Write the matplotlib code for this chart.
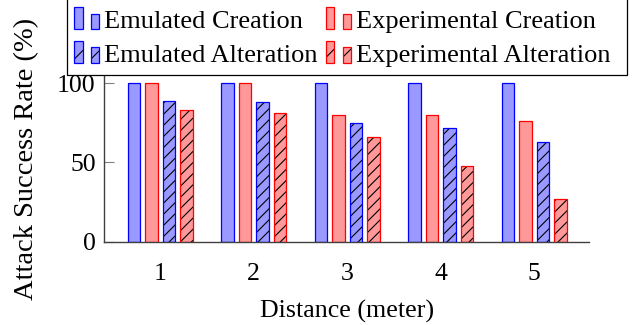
import matplotlib
matplotlib.use("Agg")
import matplotlib.pyplot as plt
from matplotlib.patches import Rectangle
from matplotlib.legend_handler import HandlerBase
import numpy as np

plt.rcParams['font.family'] = ['Liberation Serif', 'DejaVu Serif']
plt.rcParams['hatch.linewidth'] = 0.8

distances = [1, 2, 3, 4, 5]
emulated_creation = [100, 100, 100, 100, 100]
experimental_creation = [100, 100, 80, 80, 76]
emulated_alteration = [89, 88, 75, 72, 63]
experimental_alteration = [83, 81, 66, 48, 27]

series = [
    ("Emulated Creation", emulated_creation, "#9999ff", "blue", ""),
    ("Experimental Creation", experimental_creation, "#ff9999", "red", ""),
    ("Emulated Alteration", emulated_alteration, "#9999ff", "blue", "///"),
    ("Experimental Alteration", experimental_alteration, "#ff9999", "red", "///"),
]

W, H = 636, 325
fig = plt.figure(figsize=(W/100, H/100), dpi=100)
ax = fig.add_axes([104/W, (H-241.7)/H, (589.3-104)/W, (241.7-76)/H])

x = np.array(distances, dtype=float)
offs = [-1.5, -0.5, 0.5, 1.5]
step = 0.187
bw = 0.135
for (name, vals, fc, ec, hatch), o in zip(series, offs):
    if hatch:
        ax.bar(x + o*step, vals, width=bw, color=fc, edgecolor='black', linewidth=0, hatch=hatch, zorder=2)
        ax.bar(x + o*step, vals, width=bw, fill=False, edgecolor=ec, linewidth=0.9, zorder=3)
    else:
        ax.bar(x + o*step, vals, width=bw, color=fc, edgecolor=ec, linewidth=0.9, zorder=2)

ax.set_xlim(0.4, 5.59)
ax.set_ylim(0, 104.6)
ax.set_xticks(distances)
ax.set_yticks([0, 50, 100])
ax.tick_params(axis='x', length=0, labelsize=18.5, pad=15)
ax.tick_params(axis='y', direction='in', length=7, color='#808080', labelsize=18.5, pad=6)
for s in ['top', 'right']:
    ax.spines[s].set_visible(False)
for s in ['left', 'bottom']:
    ax.spines[s].set_color('#404040')
    ax.spines[s].set_linewidth(1.0)
ax.set_xlabel("Distance (meter)", fontsize=18.7, labelpad=11)
ax.set_ylabel("Attack Success Rate (%)", fontsize=20.5, labelpad=13)


class TwoBarHandler(HandlerBase):
    def __init__(self, fc, ec, hatch):
        super().__init__()
        self.fc, self.ec, self.hatch = fc, ec, hatch

    def create_artists(self, legend, orig_handle, xdescent, ydescent, width, height, fontsize, trans):
        x0, y0 = -xdescent, -ydescent - 0.05*height
        arts = []
        for (fx, fw, fh) in [(0.0, 0.336, 1.19), (0.656, 0.344, 0.84)]:
            if self.hatch:
                r1 = Rectangle((x0 + fx*width, y0), fw*width, fh*height, facecolor=self.fc,
                               edgecolor='black', linewidth=0, hatch=self.hatch, transform=trans)
                r2 = Rectangle((x0 + fx*width, y0), fw*width, fh*height, fill=False,
                               edgecolor=self.ec, linewidth=0.9, transform=trans)
                arts += [r1, r2]
            else:
                r = Rectangle((x0 + fx*width, y0), fw*width, fh*height, facecolor=self.fc,
                              edgecolor=self.ec, linewidth=0.9, transform=trans)
                arts.append(r)
        return arts


handles = {}
hmap = {}
for name, vals, fc, ec, hatch in series:
    h = Rectangle((0, 0), 1, 1)
    handles[name] = h
    hmap[h] = TwoBarHandler(fc, ec, "//" if hatch else "")

# column-wise fill order so rows read: Creation pair, Alteration pair
order = ["Emulated Creation", "Emulated Alteration", "Experimental Creation", "Experimental Alteration"]
leg = fig.legend([handles[n] for n in order], order, ncol=2, handler_map=hmap,
                 loc='upper left', bbox_to_anchor=(74.3/W, 1 - 10/H), fontsize=19,
                 frameon=False, handlelength=0.95, handletextpad=0.18, columnspacing=0.32,
                 borderpad=0, labelspacing=0.37, borderaxespad=0)

# legend frame (LaTeX-style box)
fig.patches.append(Rectangle((66.7/W, (H-75)/H), (626.7-66.7)/W, 75/H + 0.01,
                             transform=fig.transFigure, fill=False, edgecolor='black',
                             linewidth=0.9, zorder=0))

fig.savefig("out.png", dpi=100)
